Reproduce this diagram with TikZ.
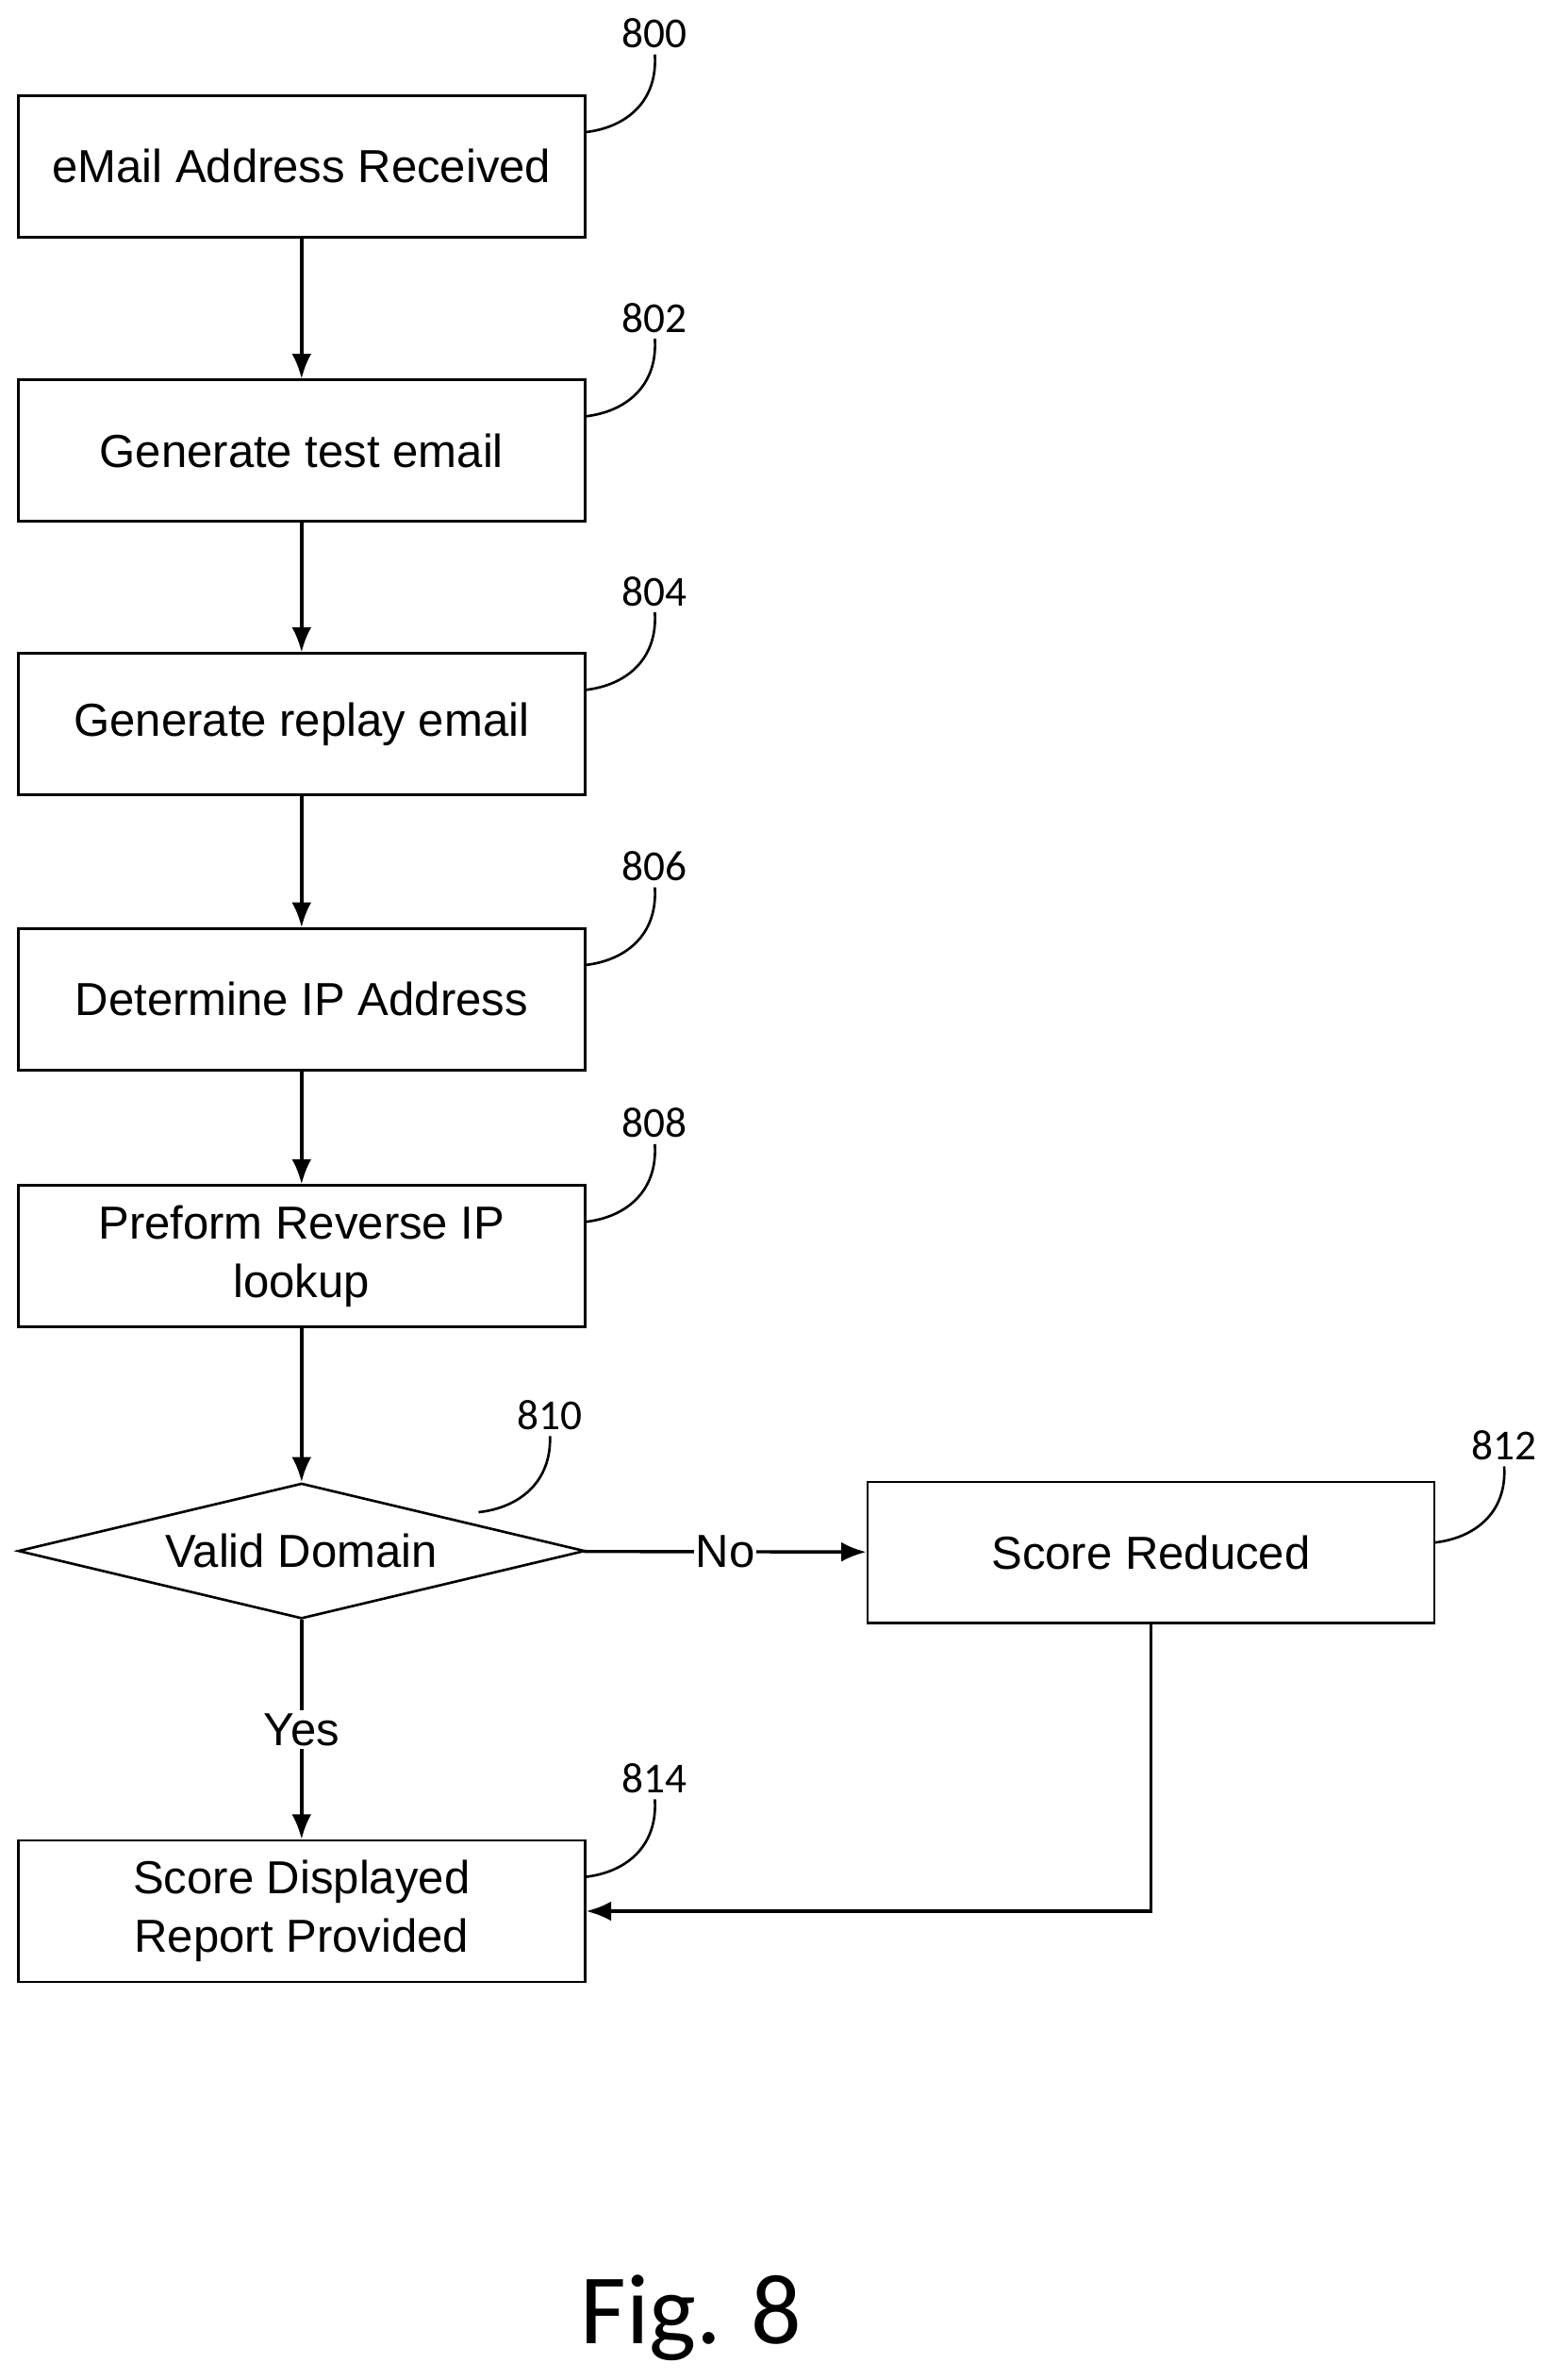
\documentclass[tikz,border=0pt]{standalone}
\usepackage{fontspec}
\setmainfont{Liberation Sans}
\newfontfamily\numfont{Carlito}
\usetikzlibrary{shapes.geometric,arrows.meta}
\begin{document}
\begin{tikzpicture}[x=0.03cm,y=-0.03cm,
    box/.style={draw,line width=1.4pt,minimum width=11.19cm,minimum height=2.79cm,
      align=center,inner sep=0pt,font=\fontsize{26}{33}\selectfont},
    ref/.style={font=\numfont\fontsize{24}{28}\selectfont},
    lead/.style={line width=1.4pt},
    flow/.style={line width=1.8pt,-{Latex[length=14pt,width=11pt]}}]
  \useasboundingbox (0,0) rectangle (1024,1566);
  \node[box] (800) at (198.5,109.5) {eMail Address Received};
  \node[box] (802) at (198.5,296.5) {Generate test email};
  \node[box] (804) at (198.5,476.5) {Generate replay email};
  \node[box] (806) at (198.5,657.5) {Determine IP Address};
  \node[box] (808) at (198.5,826.5) {Preform Reverse IP\\lookup};
  \node[box,shape=diamond,aspect=2.68,minimum height=0pt] (810) at (198.5,1020.5) {Valid Domain};
  \node[box] (812) at (757.5,1021.5) {Score Reduced};
  \node[box] (814) at (198.5,1257.5) {Score Displayed\\Report Provided};
  % reference numbers
  \foreach \n/\y in {800/22,802/209,804/389,806/570,808/739,814/1170} {
    \node[ref] (l\n) at (431,\y) {\n};
    \draw[lead] (385,\y+65) .. controls (412,\y+62) and (433,\y+45) .. (l\n.south);
  }
  \node[ref] (l810) at (362,931) {810};
  \draw[lead] (315,995) .. controls (342,992) and (363,975) .. (l810.south);
  \node[ref] (l812) at (990,951) {812};
  \draw[lead] (944,1015) .. controls (971,1012) and (992,995) .. (l812.south);
  % flow
  \draw[flow] (800) -- (802);
  \draw[flow] (802) -- (804);
  \draw[flow] (804) -- (806);
  \draw[flow] (806) -- (808);
  \draw[flow] (808) -- (810);
  \draw[flow] (810) -- node[fill=white,inner sep=1pt,font=\fontsize{26}{30}\selectfont]{No} (812);
  \draw[flow] (810) -- node[fill=white,inner sep=2pt,font=\fontsize{26}{30}\selectfont]{Yes} (814);
  \draw[flow] (812.south) |- (814.east);
  \node[font=\numfont\fontsize{56}{60}\selectfont] (fig) at (455,1525) {Fig. 8};
\end{tikzpicture}
\end{document}
